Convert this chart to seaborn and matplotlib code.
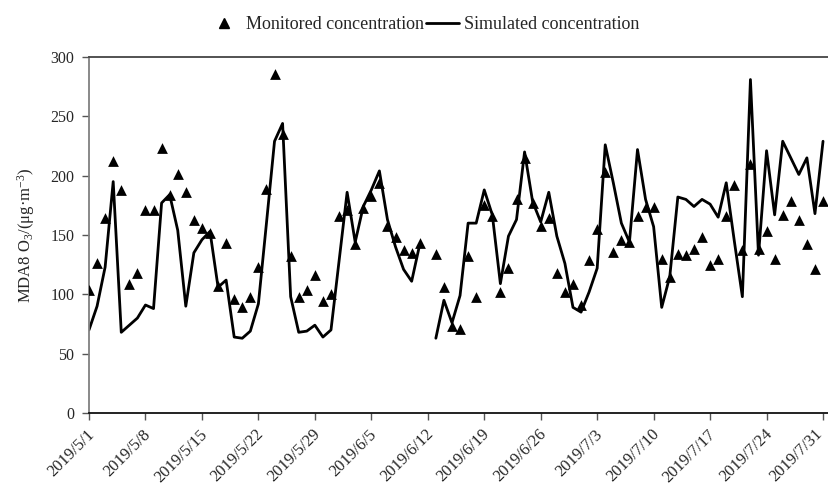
import numpy as np
import pandas as pd
import matplotlib
matplotlib.use("Agg")
import matplotlib.pyplot as plt
import matplotlib.transforms as mtransforms
from matplotlib.lines import Line2D
import seaborn as sns

# ---------------- data ----------------
start_date = "2019-05-01"
n_days = 92
monitored = [104, 126, 164, 212, 188, 109, 118, 171, 171, 223,
             184, 201, 186, 163, 156, 152, 107, 143, 96, 89,
             98, 123, 189, 286, 235, 132, 98, 104, 116, 94,
             100, 166, 171, 142, 173, 183, 194, 158, 148, 137,
             135, 143, np.nan, 134, 106, 73, 71, 132, 98, 175,
             166, 102, 122, 180, 215, 177, 158, 164, 118, 102,
             109, 91, 129, 155, 203, 136, 146, 144, 166, 174,
             174, 130, 115, 134, 133, 138, 148, 125, 130, 166,
             192, 137, 210, 138, 153, 130, 167, 179, 163, 142,
             121, 179]
simulated = [70, 90, 123, 195, 68, 74, 80, 91, 88, 177,
             184, 154, 90, 135, 146, 153, 106, 112, 64, 63,
             69, 92, 160, 229, 244, 98, 68, 69, 74, 64,
             70, 128, 186, 144, 174, 188, 204, 163, 140, 121,
             111, 142, np.nan, 63, 95, 76, 99, 160, 160, 188,
             167, 109, 149, 163, 220, 178, 161, 186, 149, 126,
             89, 85, 102, 122, 226, 194, 160, 144, 222, 180,
             157, 89, 115, 182, 180, 174, 180, 176, 165, 194,
             145, 98, 281, 133, 221, 167, 229, 215, 201, 215,
             168, 229]
tick_labels = ["2019/5/1", "2019/5/8", "2019/5/15", "2019/5/22", "2019/5/29",
               "2019/6/5", "2019/6/12", "2019/6/19", "2019/6/26", "2019/7/3",
               "2019/7/10", "2019/7/17", "2019/7/24", "2019/7/31"]
y_ticks = [0, 50, 100, 150, 200, 250, 300]

dates = pd.date_range(start_date, periods=n_days, freq="D")
df = pd.DataFrame({"date": dates, "monitored": monitored, "simulated": simulated})
df["seg"] = df["simulated"].isna().cumsum()
sim_df = df.dropna(subset=["simulated"])
mon_df = df.dropna(subset=["monitored"])
tick_dates = pd.to_datetime(["2019-" + s.split("/", 1)[1].replace("/", "-") for s in tick_labels])

# ---------------- style ----------------
sns.set_theme(style="white")
plt.rcParams["font.family"] = ["Liberation Serif", "DejaVu Serif"]
plt.rcParams["mathtext.fontset"] = "custom"
plt.rcParams["mathtext.rm"] = "Liberation Serif"
plt.rcParams["mathtext.it"] = "Liberation Serif:italic"

W, H = 829, 488
fig = plt.figure(figsize=(W / 100, H / 100), dpi=100)
ax = fig.add_axes([89 / W, (H - 413) / H, (829 - 89) / W, (413 - 57) / H])

sns.lineplot(data=sim_df, x="date", y="simulated", units="seg",
             estimator=None, color="black", lw=2.0, ax=ax, legend=False)
sns.scatterplot(data=mon_df, x="date", y="monitored", marker="^", s=60,
                color="black", edgecolor="black", linewidth=0, ax=ax, legend=False, zorder=3)

ax.set_ylim(0, 300)
ax.set_yticks(y_ticks)
ax.set_xlim(dates[0], dates[0] + pd.Timedelta(days=91.74))
ax.set_xticks(tick_dates)
ax.set_xticklabels([])
# rotated date labels, placed below the ticks (last one nudged to stay inside)
base = ax.get_xaxis_transform()
for i, (d, lab) in enumerate(zip(tick_dates, tick_labels)):
    dx = 3 if i < len(tick_labels) - 1 else -3
    trans = base + mtransforms.ScaledTranslation(dx / 100, -19 / 100, fig.dpi_scale_trans)
    ax.text(d, 0, lab, transform=trans, rotation=45, ha="right", va="center",
            rotation_mode="anchor", fontsize=12, clip_on=False)

ax.tick_params(axis="y", labelsize=11.5, length=5, width=1, color="#555555",
               direction="out", left=True, pad=5.5)
ax.tick_params(axis="x", length=5, width=1, color="#555555", direction="out", bottom=True)

ax.set_xlabel("")
ax.set_ylabel("MDA8 O$_3$/(μg·m$^{-3}$)", fontsize=12, labelpad=10)

ax.spines["right"].set_visible(False)
ax.spines["left"].set_color("#808080")
ax.spines["left"].set_linewidth(1.3)
ax.spines["bottom"].set_color("#111111")
ax.spines["bottom"].set_linewidth(1.3)
ax.spines["top"].set_color("#444444")
ax.spines["top"].set_linewidth(1.3)

handles = [Line2D([], [], marker="^", color="black", ls="none", markersize=7),
           Line2D([], [], color="black", lw=2)]
fig.legend(handles, ["Monitored concentration", "Simulated concentration"],
           loc="center", bbox_to_anchor=(0.511, 0.949), ncol=2, frameon=False,
           fontsize=13, handlelength=1.8, columnspacing=0.15, handletextpad=0.3)

fig.savefig("out.png", dpi=100)
